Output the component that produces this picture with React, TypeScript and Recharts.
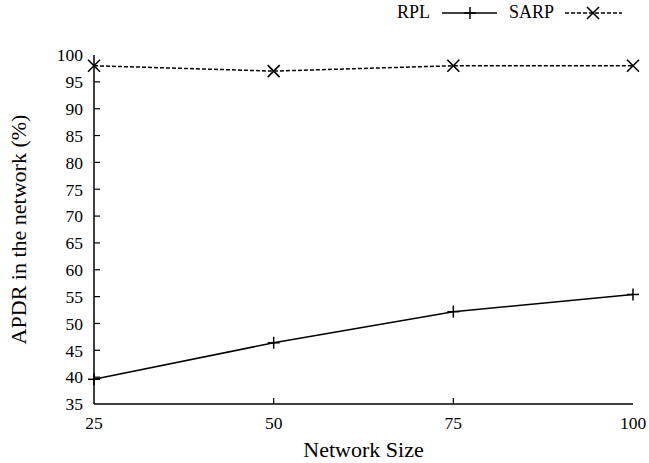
import React from 'react';
import { LineChart, Line, XAxis, YAxis } from 'recharts';

const networkSizes = [25, 50, 75, 100];
const rplValues = [39.6, 46.4, 52.2, 55.4];
const sarpValues = [98, 97, 98, 98];
const yTicks = [35, 40, 45, 50, 55, 60, 65, 70, 75, 80, 85, 90, 95, 100];
const xTicks = [25, 50, 75, 100];

const data = networkSizes.map((n, i) => ({ n, rpl: rplValues[i], sarp: sarpValues[i] }));

const FONT = '"Liberation Serif", "DejaVu Serif", serif';
const TICK = 6;
const TICK_FONT = 17.5;

const PlusDot = (props: any) => {
  const { cx, cy } = props;
  if (cx == null || cy == null) return null;
  return (
    <g>
      <line x1={cx - 6} x2={cx + 6} y1={cy} y2={cy} stroke="#000" strokeWidth={1.5} />
      <line x1={cx} x2={cx} y1={cy - 6} y2={cy + 6} stroke="#000" strokeWidth={1.5} />
    </g>
  );
};

const CrossDot = (props: any) => {
  const { cx, cy } = props;
  if (cx == null || cy == null) return null;
  return (
    <g>
      <line x1={cx - 6} x2={cx + 6} y1={cy - 6} y2={cy + 6} stroke="#000" strokeWidth={1.6} />
      <line x1={cx - 6} x2={cx + 6} y1={cy + 6} y2={cy - 6} stroke="#000" strokeWidth={1.6} />
    </g>
  );
};

const LeftTick = (props: any) => {
  const { x, y, payload } = props;
  const isEnd = payload.value === 35 || payload.value === 100;
  return (
    <g>
      {!isEnd && <line x1={x} x2={x + TICK} y1={y} y2={y} stroke="#000" strokeWidth={1.2} />}
      <text x={x - 11} y={y} dy="0.36em" textAnchor="end" fontFamily={FONT} fontSize={TICK_FONT} fill="#000">
        {payload.value}
      </text>
    </g>
  );
};

const RightTick = (props: any) => {
  const { x, y, payload } = props;
  const isEnd = payload.value === 35 || payload.value === 100;
  if (isEnd) return <g />;
  return <line x1={x} x2={x - TICK} y1={y} y2={y} stroke="#000" strokeWidth={1.2} />;
};

const BottomTick = (props: any) => {
  const { x, y, payload } = props;
  const isEnd = payload.value === 25 || payload.value === 100;
  return (
    <g>
      {!isEnd && <line x1={x} x2={x} y1={y} y2={y - TICK} stroke="#000" strokeWidth={1.2} />}
      <text x={x} y={y + 25} textAnchor="middle" fontFamily={FONT} fontSize={TICK_FONT} fill="#000">
        {payload.value}
      </text>
    </g>
  );
};

const TopTick = (props: any) => {
  const { x, y, payload } = props;
  const isEnd = payload.value === 25 || payload.value === 100;
  if (isEnd) return <g />;
  return <line x1={x} x2={x} y1={y} y2={y + TICK} stroke="#000" strokeWidth={1.2} />;
};

const YLabel = (props: any) => {
  const vb = props.viewBox || { x: 0, y: 55, width: 94, height: 349 };
  const cy = vb.y + vb.height / 2;
  const cx = 18;
  return (
    <text
      x={cx}
      y={cy}
      transform={`rotate(-90, ${cx}, ${cy})`}
      textAnchor="middle"
      dominantBaseline="central"
      fontFamily={FONT}
      fontSize={22}
      fill="#000"
    >
      APDR in the network (%)
    </text>
  );
};

const XLabel = (props: any) => {
  const vb = props.viewBox || { x: 94, y: 404, width: 539, height: 59 };
  const cx = vb.x + vb.width / 2;
  return (
    <text x={cx} y={456.5} textAnchor="middle" fontFamily={FONT} fontSize={22} fill="#000">
      Network Size
    </text>
  );
};

const LegendBox = () => (
  <svg width={649} height={30} style={{ position: 'absolute', left: 0, top: 0 }}>
    <text x={430} y={17.5} textAnchor="end" fontFamily={FONT} fontSize={18} fill="#000">RPL</text>
    <line x1={442} x2={497} y1={13} y2={13} stroke="#000" strokeWidth={1.5} />
    <PlusDot cx={470} cy={13} />
    <text x={554} y={17.5} textAnchor="end" fontFamily={FONT} fontSize={18} fill="#000">SARP</text>
    <line x1={565} x2={622} y1={13} y2={13} stroke="#000" strokeWidth={1.5} strokeDasharray="4 2" />
    <CrossDot cx={593} cy={13} />
  </svg>
);

export default function App() {
  return (
    <div style={{ position: 'absolute', left: 0, top: 0, width: 649, height: 463, background: '#fff' }}>
      <LineChart width={649} height={463} data={data} margin={{ top: 55, right: 16, bottom: 0, left: 0 }}>
        <XAxis
          xAxisId="bottom"
          dataKey="n"
          type="number"
          domain={[25, 100]}
          ticks={xTicks}
          height={59}
          tickSize={0}
          tickMargin={0}
          tickLine={false}
          axisLine={{ stroke: '#000', strokeWidth: 1.5 }}
          tick={<BottomTick />}
          label={<XLabel />}
          interval={0}
        />
        <XAxis
          xAxisId="top"
          dataKey="n"
          type="number"
          orientation="top"
          domain={[25, 100]}
          ticks={xTicks}
          height={0}
          tickSize={0}
          tickMargin={0}
          tickLine={false}
          axisLine={{ stroke: '#000', strokeWidth: 1.5 }}
          tick={<TopTick />}
          interval={0}
        />
        <YAxis
          yAxisId="left"
          type="number"
          domain={[35, 100]}
          ticks={yTicks}
          width={94}
          tickSize={0}
          tickMargin={0}
          tickLine={false}
          axisLine={{ stroke: '#000', strokeWidth: 1.5 }}
          tick={<LeftTick />}
          label={<YLabel />}
          interval={0}
        />
        <YAxis
          yAxisId="right"
          type="number"
          orientation="right"
          domain={[35, 100]}
          ticks={yTicks}
          width={0}
          tickSize={0}
          tickMargin={0}
          tickLine={false}
          axisLine={{ stroke: '#000', strokeWidth: 1.5 }}
          tick={<RightTick />}
          interval={0}
        />
        <Line
          xAxisId="bottom"
          yAxisId="left"
          dataKey="rpl"
          stroke="#000"
          strokeWidth={1.5}
          dot={<PlusDot />}
          activeDot={false}
          isAnimationActive={false}
          type="linear"
        />
        <Line
          xAxisId="bottom"
          yAxisId="left"
          dataKey="sarp"
          stroke="#000"
          strokeWidth={1.5}
          strokeDasharray="4 2"
          dot={<CrossDot />}
          activeDot={false}
          isAnimationActive={false}
          type="linear"
        />
      </LineChart>
      <LegendBox />
    </div>
  );
}
